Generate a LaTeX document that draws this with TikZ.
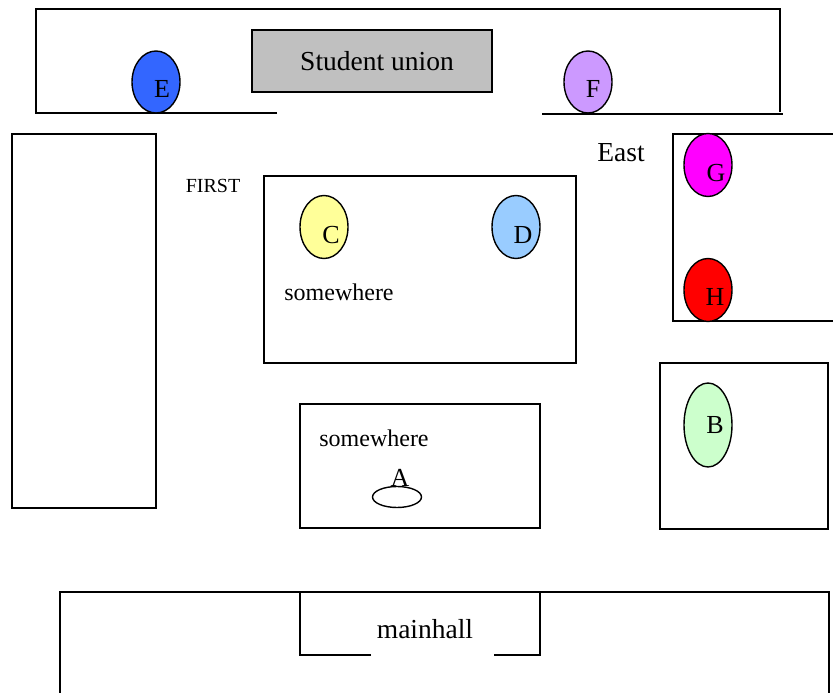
\documentclass[tikz,border=0pt]{standalone}
\usepackage{fontspec}
\setmainfont{Liberation Serif}
\usetikzlibrary{shapes.geometric,positioning}
\definecolor{spotE}{HTML}{3366FF}
\definecolor{spotF}{HTML}{CC99FF}
\definecolor{spotC}{HTML}{FFFF99}
\definecolor{spotD}{HTML}{99CCFF}
\definecolor{spotG}{HTML}{FF00FF}
\definecolor{spotH}{HTML}{FF0000}
\definecolor{spotB}{HTML}{CCFFCC}
\definecolor{union}{HTML}{C0C0C0}
\tikzset{
    %Define style for walls
    wall/.style={
           draw=black,
           line width=1.6pt,
           line join=miter},
    %Define style for places
    spot/.style={
           ellipse,
           draw=black, line width=1.4pt,
           minimum width=48pt,
           minimum height=63pt,
           inner sep=0pt},
    letter/.style={
           font=\fontsize{26}{28}\selectfont,
           inner sep=0pt},
    %Define style for texts
    bigtext/.style={
           font=\fontsize{27.5}{30}\selectfont,
           inner sep=0pt},
    midtext/.style={
           font=\fontsize{24}{26}\selectfont,
           inner sep=0pt},
    smalltext/.style={
           font=\fontsize{20}{22}\selectfont,
           inner sep=0pt}
}
\begin{document}
\begin{tikzpicture}[x=1pt,y=-1pt]
\useasboundingbox (0,0) rectangle (833,693);
% top building
\draw[wall] (277,113) -- (36,113) -- (36,9) -- (780,9) -- (780,112);
\draw[wall] (542,114) -- (783,114);
\node[draw=black, line width=1.6pt, fill=union, minimum width=240pt, minimum height=62pt,
  bigtext] (union) at (372,61) {\hspace*{10pt}Student union};
\node[spot, fill=spotE, minimum height=62pt](E) at (156,82){};
\node[letter] at ([xshift=6pt,yshift=-7pt]E.center){E};
\node[spot, fill=spotF, minimum height=62pt](F) at (588,82){};
\node[letter] at ([xshift=5pt,yshift=-7pt]F.center){F};
% left block
\draw[wall] (12,134) rectangle (156,508);
\node[smalltext](first) at (213,186){FIRST};
% middle block
\draw[wall] (264,176) rectangle (576,363);
\node[spot, fill=spotC](C) at (324,227){};
\node[letter] at ([xshift=7pt,yshift=-8pt]C.center){C};
\node[spot, fill=spotD](D) at (516,227){};
\node[letter] at ([xshift=7pt,yshift=-8pt]D.center){D};
\node[midtext](some1) at (339,292){somewhere};
% east block
\node[bigtext](east) at (621,153){East};
\draw[wall] (833,134) -- (673,134) -- (673,321) -- (833,321);
\node[spot, fill=spotG](G) at (708,165){};
\node[letter] at ([xshift=8pt,yshift=-8pt]G.center){G};
\node[spot, fill=spotH](H) at (708,290){};
\node[letter] at ([xshift=7pt,yshift=-7pt]H.center){H};
% B block
\draw[wall] (660,363) rectangle (828,529);
\node[spot, fill=spotB, minimum height=84pt](B) at (708,425){};
\node[letter] at ([xshift=7pt]B.center){B};
% A block
\draw[wall] (300,404) rectangle (540,528);
\node[midtext](some2) at (374,438){somewhere};
\node[letter](Alabel) at (400,478){A};
\node[spot, minimum width=49pt, minimum height=21pt](A) at (397,497){};
% main hall
\draw[wall] (60,693) -- (60,592) -- (829,592) -- (829,693);
\draw[wall] (371,655) -- (300,655) -- (300,592);
\draw[wall] (494,655) -- (540,655) -- (540,592);
\node[bigtext](hall) at (425,629){mainhall};
\end{tikzpicture}
\end{document}
